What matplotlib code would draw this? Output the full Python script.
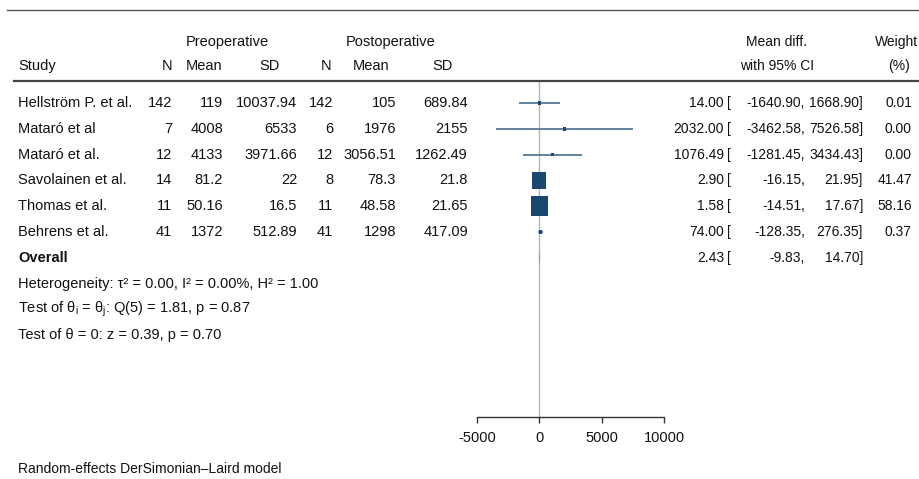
import numpy as np
import matplotlib
matplotlib.use('Agg')
import matplotlib.pyplot as plt
from matplotlib.lines import Line2D
from matplotlib.path import Path
from matplotlib.transforms import blended_transform_factory

plt.rcParams['font.family'] = ['Liberation Sans', 'DejaVu Sans']
plt.rcParams['mathtext.fontset'] = 'custom'
plt.rcParams['mathtext.rm'] = 'Liberation Sans'
plt.rcParams['mathtext.it'] = 'Liberation Sans'
plt.rcParams['axes.unicode_minus'] = False

# --- data ---
studies = ["Hellström P. et al.", "Mataró et al", "Mataró et al.",
           "Savolainen et al.", "Thomas et al.", "Behrens et al."]
pre_n = [142, 7, 12, 14, 11, 41]
pre_mean = [119, 4008, 4133, 81.2, 50.16, 1372]
pre_sd = [10037.94, 6533, 3971.66, 22, 16.5, 512.89]
post_n = [142, 6, 12, 8, 11, 41]
post_mean = [105, 1976, 3056.51, 78.3, 48.58, 1298]
post_sd = [689.84, 2155, 1262.49, 21.8, 21.65, 417.09]
mean_diff = [14.00, 2032.00, 1076.49, 2.90, 1.58, 74.00]
ci_low = [-1640.90, -3462.58, -1281.45, -16.15, -14.51, -128.35]
ci_high = [1668.90, 7526.58, 3434.43, 21.95, 17.67, 276.35]
weights = [0.01, 0.00, 0.00, 41.47, 58.16, 0.37]
overall = (2.43, -9.83, 14.70)
x_ticks = [-5000, 0, 5000, 10000]
stats_lines = [
    "Heterogeneity: \u03c4\u00b2 = 0.00, I\u00b2 = 0.00%, H\u00b2 = 1.00",
    "Test of \u03b8$_\\mathregular{i}$ = \u03b8$_\\mathregular{j}$: Q(5) = 1.81, p = 0.87",
    "Test of \u03b8 = 0: z = 0.39, p = 0.70",
]

W, H = 920, 479
FS = 10.5
FS_CI = 10
NAVY = '#1a476f'
CI_COL = '#56789a'
TXT = '#111111'


def fmt(v):
    return ('%.2f' % v).rstrip('0').rstrip('.')


def fx(px):
    return px / W


def fy(py):
    return 1 - py / H


fig = plt.figure(figsize=(W / 100, H / 100), dpi=100)

# forest panel: x from -5000 to 10000, axis line at the bottom
ax = fig.add_axes([fx(477), fy(417), fx(664) - fx(477), fy(81) - fy(417)])
ax.set_xlim(x_ticks[0], x_ticks[-1])
row_step = 25.8
ax.set_ylim((417 - 103) / row_step, -(103 - 81) / row_step)
for side in ['top', 'right', 'left']:
    ax.spines[side].set_visible(False)
ax.spines['bottom'].set_color('#333333')
ax.spines['bottom'].set_linewidth(1.0)
ax.set_yticks([])
ax.set_xticks(x_ticks)
ax.tick_params(axis='x', direction='out', length=4, width=1.0, color='#333333',
               pad=6, labelsize=FS, labelcolor=TXT)
ax.patch.set_visible(False)

ax.axvline(0, color='#b5b5b5', lw=1.0, zorder=1)

rows = np.arange(len(studies))
ax.hlines(rows, ci_low, ci_high, color=CI_COL, lw=1.3, zorder=2, clip_on=False)
box = Path([(-0.41, -0.5), (0.41, -0.5), (0.41, 0.5), (-0.41, 0.5), (-0.41, -0.5)],
           [Path.MOVETO, Path.LINETO, Path.LINETO, Path.LINETO, Path.CLOSEPOLY])
sizes = np.maximum(np.array(weights) * 3.6, 7)
ax.scatter(mean_diff, rows, s=sizes, marker=box, color=NAVY, linewidths=0,
           zorder=3, clip_on=False)

# overall diamond (far narrower than a pixel at this scale)
ov_y = len(studies)
ax.fill([overall[1], overall[0], overall[2], overall[0]],
        [ov_y, ov_y - 0.3, ov_y, ov_y + 0.3], color=NAVY, lw=0, zorder=3)

# text columns: x in figure fraction, y in rows
tr = blended_transform_factory(fig.transFigure, ax.transData)


def put(px, row, s, ha='right', size=FS, **kw):
    ax.text(fx(px), row, s, transform=tr, ha=ha, va='center', fontsize=size,
            color=TXT, clip_on=False, **kw)


def put_ci(row, est, lo, hi):
    put(724, row, '%.2f' % est, size=FS_CI)
    put(727, row, '[', ha='left', size=FS_CI)
    put(805, row, '%.2f,' % lo, size=FS_CI)
    put(863, row, '%.2f]' % hi, size=FS_CI)


for i, name in enumerate(studies):
    put(18, i, name, ha='left')
    put(172, i, str(pre_n[i]))
    put(223, i, fmt(pre_mean[i]))
    put(297, i, fmt(pre_sd[i]))
    put(333, i, str(post_n[i]))
    put(396, i, fmt(post_mean[i]))
    put(468, i, fmt(post_sd[i]))
    put_ci(i, mean_diff[i], ci_low[i], ci_high[i])
    put(912, i, '%.2f' % weights[i], size=FS_CI)

put(18, ov_y, 'Overall', ha='left', fontweight='bold')
put_ci(ov_y, *overall)

for k, line in enumerate(stats_lines):
    put(18, ov_y + 1 + k, line, ha='left')


# header
def head(px, py, s, ha='right', size=FS):
    fig.text(fx(px), fy(py), s, ha=ha, va='center', fontsize=size, color=TXT)


head(227, 42, 'Preoperative', ha='center')
head(391, 42, 'Postoperative', ha='center')
head(18, 66, 'Study', ha='left')
head(172, 66, 'N')
head(222, 66, 'Mean')
head(280, 66, 'SD')
head(331, 66, 'N')
head(389, 66, 'Mean')
head(453, 66, 'SD')
head(777, 42, 'Mean diff.', ha='center', size=FS_CI)
head(777, 66, 'with 95% CI', ha='center', size=FS_CI)
head(918, 42, 'Weight', size=FS_CI)
head(899, 66, '(%)', ha='center', size=FS_CI)

head(18, 469, 'Random-effects DerSimonian\u2013Laird model', ha='left', size=10)

# rules
fig.add_artist(Line2D([fx(7), 1], [fy(10), fy(10)], color='#555555', lw=1.0))
fig.add_artist(Line2D([fx(14), 1], [fy(81), fy(81)], color='#444444', lw=1.6))

fig.savefig('out.png', dpi=100, facecolor='white')
